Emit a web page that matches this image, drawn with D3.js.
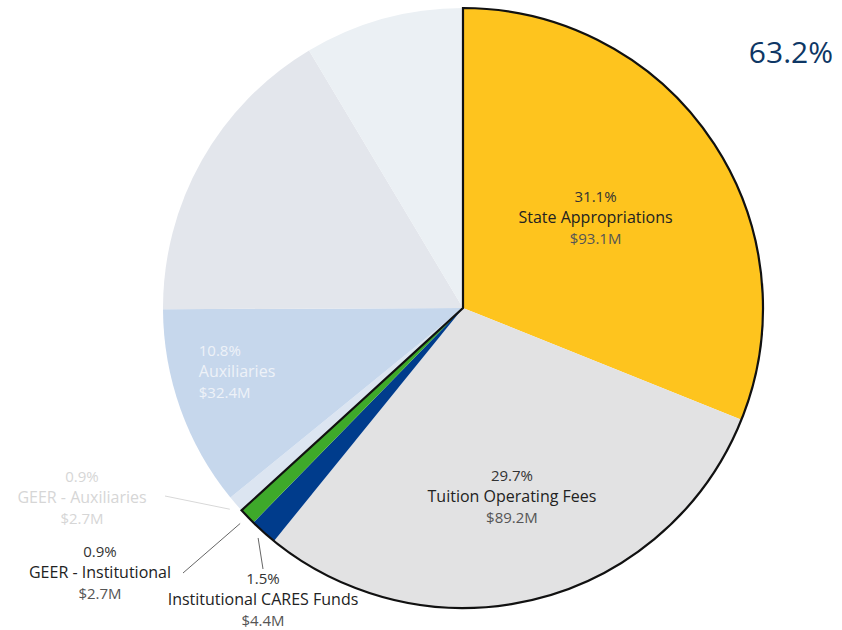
<!DOCTYPE html>
<html>
<head>
<meta charset="utf-8">
<script src="https://cdn.jsdelivr.net/npm/d3@7"></script>
<style>
  html, body { margin: 0; padding: 0; background: #fff; }
  svg { display: block; font-family: "Open Sans", "Noto Sans", sans-serif; }
</style>
</head>
<body>
<svg id="chart" width="842" height="630"></svg>
<script>
// Revenue sources (millions of dollars), in drawing order clockwise from 12 o'clock
const categories = [
  "State Appropriations",
  "Tuition Operating Fees",
  "Institutional CARES Funds",
  "GEER - Institutional",
  "GEER - Auxiliaries",
  "Auxiliaries",
  "Other Revenue A",
  "Other Revenue B"
];
const amounts = [93.1, 89.2, 4.4, 2.7, 2.7, 32.4, 49.4, 25.7];
const percentLabels = ["31.1%", "29.7%", "1.5%", "0.9%", "0.9%", "10.8%", "", ""];
const amountLabels = ["$93.1M", "$89.2M", "$4.4M", "$2.7M", "$2.7M", "$32.4M", "", ""];
const highlighted = [true, true, true, true, false, false, false, false];
const highlightTotal = "63.2%";

const sliceColors = ["#FEC41E", "#E2E2E3", "#003C8C", "#3EA92A", "#DCE5F1", "#C6D7EC", "#E3E6EC", "#EBF0F4"];

// Label placement: inside labels sit on the slice bisector (plus a nudge);
// outside labels are centred at (tx, ty) with a leader line from the rim to (ex, ey)
const labelLayout = [
  { mode: "inside", r: 160, anchor: "middle", dx: 0, dy: 0 },
  { mode: "inside", r: 195, anchor: "middle", dx: 0, dy: 0 },
  { mode: "outside", r0: 308, ex: 263, ey: 569, tx: 263, ty: 579 },
  { mode: "outside", r0: 310, ex: 183, ey: 573, tx: 100, ty: 552 },
  { mode: "outside", r0: 308, ex: 165, ey: 496, tx: 82, ty: 477 },
  { mode: "inside", r: 235, anchor: "start", dx: -43, dy: -15 },
  null,
  null
];

const svg = d3.select("#chart");
const cx = 463, cy = 308, radius = 300;
const g = svg.append("g").attr("transform", `translate(${cx},${cy})`);

const pie = d3.pie().sort(null).value(d => d.value);
const data = categories.map((c, i) => ({ name: c, value: amounts[i], i }));
const arcs = pie(data);
const arc = d3.arc().innerRadius(0).outerRadius(radius);

g.selectAll("path.slice")
  .data(arcs)
  .join("path")
  .attr("class", "slice")
  .attr("d", arc)
  .attr("fill", d => sliceColors[d.data.i]);

// Outline around the highlighted group of slices
const hl = arcs.filter(d => highlighted[d.data.i]);
g.append("path")
  .attr("d", d3.arc().innerRadius(0).outerRadius(radius)({
    startAngle: d3.min(hl, d => d.startAngle),
    endAngle: d3.max(hl, d => d.endAngle)
  }))
  .attr("fill", "none")
  .attr("stroke", "#111")
  .attr("stroke-width", 2.2)
  .attr("stroke-linejoin", "miter");

function polar(angle, r) {
  return [Math.sin(angle) * r, -Math.cos(angle) * r];
}

const lineGap = 21;
arcs.forEach(d => {
  const i = d.data.i;
  const lay = labelLayout[i];
  if (!lay) return;
  const mid = (d.startAngle + d.endAngle) / 2;
  const faded = !highlighted[i];
  let x, y, anchor = "middle";
  if (lay.mode === "inside") {
    [x, y] = polar(mid, lay.r);
    x += lay.dx;
    y += lay.dy;
    anchor = lay.anchor;
  } else {
    const p0 = polar(mid, lay.r0);
    g.append("line")
      .attr("x1", p0[0]).attr("y1", p0[1])
      .attr("x2", lay.ex - cx).attr("y2", lay.ey - cy)
      .attr("stroke", faded ? "#d8d8d8" : "#666")
      .attr("stroke-width", 1);
    x = lay.tx - cx;
    y = lay.ty - cy + lineGap;
  }
  let c1, c2, c3;
  if (i === 5) { c1 = c2 = c3 = "#EEF2F8"; }
  else if (faded) { c1 = c2 = c3 = "#D6D6D6"; }
  else { c1 = "#333"; c2 = "#222"; c3 = "#555"; }
  const t = g.append("text")
    .attr("text-anchor", anchor)
    .attr("font-size", 16);
  t.append("tspan").attr("x", x).attr("y", y - lineGap + 5).attr("fill", c1).attr("font-size", 15).text(percentLabels[i]);
  t.append("tspan").attr("x", x).attr("y", y + 5).attr("fill", c2).text(categories[i]);
  t.append("tspan").attr("x", x).attr("y", y + lineGap + 5).attr("fill", c3).attr("font-size", 15).text(amountLabels[i]);
});

svg.append("text")
  .attr("x", 833)
  .attr("y", 63)
  .attr("text-anchor", "end")
  .attr("font-size", 30)
  .attr("fill", "#0E3765")
  .text(highlightTotal);
</script>
</body>
</html>
